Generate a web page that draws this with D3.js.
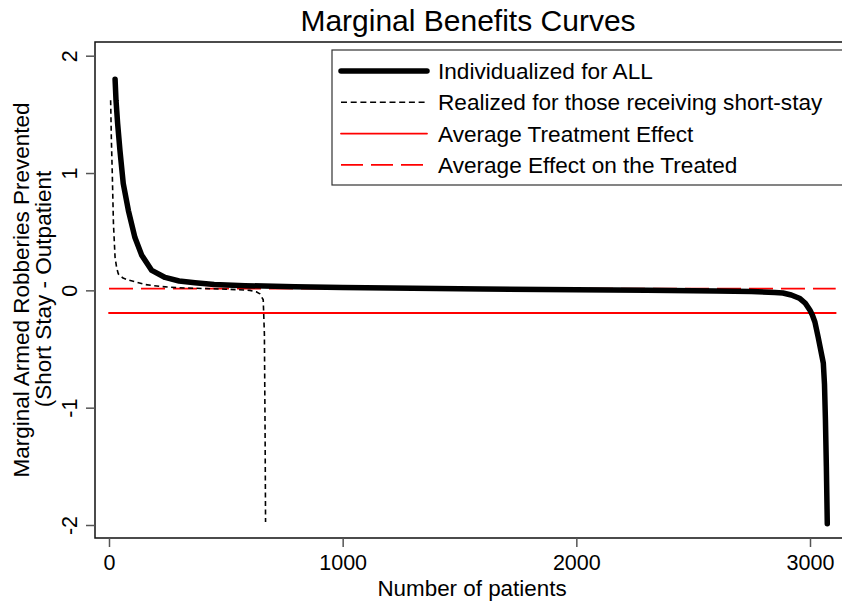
<!DOCTYPE html>
<html>
<head>
<meta charset="utf-8">
<script src="https://cdn.jsdelivr.net/npm/d3@7"></script>
<style>
  html, body { margin: 0; padding: 0; background: #fff; }
  svg { display: block; font-family: "Liberation Sans", Arial, sans-serif; }
</style>
</head>
<body>
<svg id="chart" width="842" height="603"></svg>
<script>
// ---- Data ----
const title = "Marginal Benefits Curves";
const xLabel = "Number of patients";
const yLabelLines = ["Marginal Armed Robberies Prevented", "(Short Stay - Outpatient"];
const xTicks = [0, 1000, 2000, 3000];
const yTicks = [-2, -1, 0, 1, 2];

// Individualized for ALL (sorted marginal effects)
const indivX = [26, 30, 37, 47, 61, 83, 111, 140, 183, 240, 300, 368, 450, 582, 796, 1000, 1300, 1600, 2000, 2300, 2600, 2750, 2850, 2884, 2920, 2957, 2980, 3000, 3010, 3021, 3035, 3045, 3057, 3062, 3066, 3070, 3074];
const indivY = [1.80, 1.62, 1.42, 1.19, 0.91, 0.68, 0.45, 0.30, 0.17, 0.11, 0.08, 0.065, 0.05, 0.04, 0.03, 0.024, 0.018, 0.012, 0.005, 0.0, -0.005, -0.01, -0.018, -0.023, -0.04, -0.07, -0.11, -0.17, -0.21, -0.27, -0.40, -0.50, -0.62, -0.80, -1.10, -1.50, -1.99];

// Realized for those receiving short-stay
const realX = [7, 10, 14, 19, 26, 33, 40, 60, 83, 154, 220, 297, 400, 500, 603, 630, 646, 660, 665, 668, 670];
const realY = [1.62, 1.30, 1.00, 0.57, 0.28, 0.19, 0.14, 0.105, 0.088, 0.05, 0.033, 0.022, 0.016, 0.01, 0.0, -0.012, -0.03, -0.08, -0.37, -1.2, -1.975];

const ate = -0.193;   // Average Treatment Effect
const att = 0.015;    // Average Effect on the Treated
const refLineX = [0, 3110];

const legendItems = [
  { label: "Individualized for ALL", key: "indiv" },
  { label: "Realized for those receiving short-stay", key: "real" },
  { label: "Average Treatment Effect", key: "ate" },
  { label: "Average Effect on the Treated", key: "att" }
];

// ---- Styles ----
const styles = {
  indiv: { stroke: "#000", width: 5.5, dash: null },
  real:  { stroke: "#000", width: 1.6, dash: "5,3.5" },
  ate:   { stroke: "#ff0000", width: 1.8, dash: null },
  att:   { stroke: "#ff0000", width: 1.8, dash: "24,8" }
};

// ---- Layout ----
const svg = d3.select("#chart");
const frame = { left: 95, top: 42, bottom: 538, right: 850 };
const x = d3.scaleLinear().domain([0, 3000]).range([109, 810]);
const y = d3.scaleLinear().domain([-2, 2]).range([525, 55.7]);
const fmt = d => String(d);

// Frame (right edge lies outside the picture)
svg.append("path")
  .attr("d", `M${frame.right},${frame.top}H${frame.left}V${frame.bottom}H${frame.right}`)
  .attr("fill", "none").attr("stroke", "#111").attr("stroke-width", 1.5);

// X axis ticks
const xAxisG = svg.append("g").attr("transform", `translate(0,${frame.bottom})`)
  .call(d3.axisBottom(x).tickValues(xTicks).tickSize(9).tickPadding(8).tickFormat(fmt));
xAxisG.select(".domain").remove();
xAxisG.selectAll(".tick line").attr("stroke", "#555").attr("stroke-width", 1.5);
xAxisG.selectAll(".tick text").attr("font-size", 21.5).attr("fill", "#000")
  .attr("font-family", "Liberation Sans, Arial, sans-serif");

// Y axis ticks
const yAxisG = svg.append("g").attr("transform", `translate(${frame.left},0)`)
  .call(d3.axisLeft(y).tickValues(yTicks).tickSize(9).tickFormat(fmt));
yAxisG.select(".domain").remove();
yAxisG.selectAll(".tick line").attr("stroke", "#555").attr("stroke-width", 1.5);
yAxisG.selectAll(".tick text")
  .attr("font-size", 21.5).attr("fill", "#000")
  .attr("font-family", "Liberation Sans, Arial, sans-serif")
  .attr("text-anchor", "middle")
  .attr("x", null).attr("dy", null)
  .attr("transform", "translate(-18,0) rotate(-90)");

// Clip
svg.append("clipPath").attr("id", "clip").append("rect")
  .attr("x", frame.left).attr("y", frame.top)
  .attr("width", frame.right - frame.left).attr("height", frame.bottom - frame.top);
const plot = svg.append("g").attr("clip-path", "url(#clip)");

const line = d3.line().x(d => x(d[0])).y(d => y(d[1]));

function drawLine(data, st) {
  const p = plot.append("path").datum(data)
    .attr("d", line)
    .attr("fill", "none")
    .attr("stroke", st.stroke)
    .attr("stroke-width", st.width)
    .attr("stroke-linejoin", "round")
    .attr("stroke-linecap", "round");
  if (st.dash) p.attr("stroke-dasharray", st.dash).attr("stroke-linecap", "butt");
  return p;
}

drawLine(refLineX.map(v => [v, att]), styles.att);
drawLine(refLineX.map(v => [v, ate]), styles.ate);
drawLine(realX.map((v, i) => [v, realY[i]]), styles.real);
drawLine(indivX.map((v, i) => [v, indivY[i]]), styles.indiv);

// Legend
const lg = svg.append("g");
lg.append("rect").attr("x", 332).attr("y", 50).attr("width", 520).attr("height", 135)
  .attr("fill", "#fff").attr("stroke", "#333").attr("stroke-width", 1.2);
legendItems.forEach((it, i) => {
  const yy = 71 + i * 31.3;
  const st = styles[it.key];
  const l = lg.append("line").attr("x1", 341).attr("x2", 427).attr("y1", yy).attr("y2", yy)
    .attr("stroke", st.stroke).attr("stroke-width", st.width)
    .attr("stroke-linecap", st.dash ? "butt" : "round");
  if (st.dash) l.attr("stroke-dasharray", it.key === "real" ? "6,3.7" : "22,8");
  lg.append("text").attr("x", 438).attr("y", yy + 8).attr("font-size", 22.6).text(it.label);
});

// Title
svg.append("text").attr("x", 468).attr("y", 31).attr("text-anchor", "middle")
  .attr("font-size", 30).text(title);

// X label
svg.append("text").attr("x", 472).attr("y", 596).attr("text-anchor", "middle")
  .attr("font-size", 22.4).text(xLabel);

// Y label (two lines, rotated)
svg.append("text").attr("transform", "translate(29,290) rotate(-90)")
  .attr("text-anchor", "middle").attr("font-size", 22.5).text(yLabelLines[0]);
svg.append("text").attr("transform", "translate(51,289) rotate(-90)")
  .attr("text-anchor", "middle").attr("font-size", 22.5).text(yLabelLines[1]);
</script>
</body>
</html>
